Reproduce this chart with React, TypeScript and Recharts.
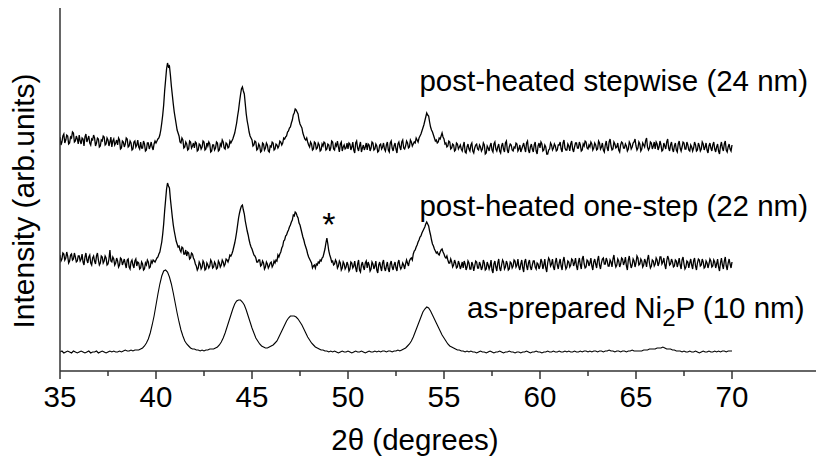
import React from 'react';
import { LineChart, Line, XAxis, YAxis, ReferenceDot } from 'recharts';

// 2θ sampling start, and step of each recorded pattern
const TWO_THETA_START = 35;
const STEP_FINE = 0.05;
const STEP_COARSE = 0.1;

// intensities (arb. units) above each pattern's own baseline, one row per degree (35..69, then 70)
const stepwise = [
  14, 6, 9, 15, 17, 8, 11, 16, 15, 7, 8, 14, 13, 19, 18, 9, 10, 15, 12, 7,
  16, 10, 7, 13, 12, 5, 14, 17, 9, 12, 15, 8, 6, 12, 11, 16, 13, 5, 8, 13,
  12, 4, 5, 11, 10, 15, 14, 6, 7, 13, 11, 5, 9, 14, 4, 10, 12, 6, 8, 11,
  6, 13, 11, 2, 3, 10, 9, 4, 7, 13, 12, 4, 5, 10, 8, 1, 2, 9, 10, 4,
  6, 11, 4, 2, 9, 3, 3, 10, 7, 0, 1, 8, 8, 2, 5, 9, 4, 1, 7, 10,
  8, 10, 12, 13, 16, 21, 28, 36, 46, 60, 71, 82, 88, 84, 85, 76, 65, 56, 47, 39,
  33, 27, 21, 18, 15, 9, 8, 13, 11, 3, 4, 9, 7, 1, 2, 10, 9, 3, 5, 8,
  3, 9, 8, 0, 1, 7, 6, 2, 4, 10, 9, 1, 2, 8, 5, 9, 7, -1, 0, 6,
  6, 1, 3, 9, 8, 0, 1, 7, 5, 11, 9, 3, 2, 8, 7, 3, 4, 10, 8, 10,
  12, 15, 18, 23, 28, 35, 41, 49, 56, 62, 64, 60, 57, 47, 37, 30, 25, 19, 15, 13,
  11, 5, 6, 10, 9, 1, 2, 7, 5, -1, 0, 8, 7, 1, 3, 8, 6, 0, -1, 5,
  4, 9, 8, 1, 2, 7, 6, 3, 5, 10, 9, 6, 8, 13, 12, 14, 15, 19, 20, 23,
  24, 28, 31, 36, 38, 42, 41, 39, 37, 31, 27, 25, 23, 18, 15, 12, 11, 13, 9, 6,
  4, 9, 7, 1, 2, 9, 8, 2, 3, 8, 6, 0, 1, 7, 5, 9, 8, 1, 2, 7,
  6, 0, 3, 10, 9, 2, 1, 7, 5, 10, 4, -1, 7, 9, 0, 4, 6, 2, 3, 8,
  2, 8, 7, 1, 4, 9, 1, -2, 8, 10, 3, 0, 5, 9, -1, 3, 6, 1, 4, 8,
  1, 7, 6, 0, 3, 9, 8, 1, 2, 7, 5, -1, 0, 6, 7, 2, 4, 8, 2, 0,
  6, 9, 1, -1, 8, 10, 3, 0, 5, 8, 2, -2, 7, 9, 4, 1, 9, 11, 3, 2,
  5, 10, 8, 3, 4, 11, 9, 5, 7, 9, 8, 13, 11, 9, 13, 15, 17, 20, 23, 26,
  30, 34, 38, 36, 35, 29, 24, 21, 19, 16, 13, 10, 11, 8, 9, 13, 12, 15, 18, 14,
  12, 7, 8, 4, 5, 10, 9, 2, 3, 7, 6, 0, 1, 8, 7, 2, 4, 6, 2, 0,
  5, 9, -1, -2, 4, 7, 2, 0, 6, 8, 0, -2, 3, 6, 7, 2, 1, 6, 4, 0,
  2, 8, 6, -3, -2, 5, 3, 0, 5, 8, 1, -1, 7, 9, 2, 0, 4, 7, 0, -2,
  5, 8, 2, -1, 8, 10, 1, -2, 4, 7, 6, 1, 0, 4, 3, 8, 7, 0, 2, 6,
  -1, 2, 5, 8, 3, -1, 8, 10, 1, -2, 4, 7, 2, -1, 6, 9, 0, -3, 5, 8,
  3, 9, 7, 0, 1, 6, 4, -3, -3, 1, 2, 8, 6, 1, 3, 7, 5, 0, 1, 6,
  6, 9, 2, -1, 8, 11, 3, 1, 1, 7, 5, 0, 7, 10, 2, -1, 4, 8, 8, 3,
  3, 9, 6, 0, 1, 7, 5, 10, 9, 3, 2, 6, 4, 9, 7, 1, 3, 8, 6, 1,
  2, 10, 8, 2, 4, 8, 1, -1, 6, 10, 3, 0, 9, 12, 5, 1, 2, 9, 7, 3,
  4, 8, 1, -1, 6, 9, 8, 3, 3, 7, 5, 0, 2, 9, 7, 2, 4, 8, 9, 12,
  5, 1, 3, 9, 7, 0, 2, 8, 6, 4, 10, 13, 4, 1, 3, 9, 8, 2, 5, 9,
  2, 9, 7, 1, 4, 10, 6, 0, 1, 8, 5, 2, 9, 12, 3, 0, 6, 9, 2, -1,
  5, 8, 1, -1, 7, 10, 3, 0, 4, 9, 8, 2, 2, 9, 6, 1, 0, 6, 4, 0,
  3, 9, 6, 0, 1, 8, 5, 0, 2, 9, 7, 1, 4, 8, 1, -2, 5, 8, 3, 0,
  6, 9, 2, -1, 4, 7, 0, -3, 5, 9, 3, 0, 7, 10, 1, -1, 4, 7, 2, 0,
  6,
];

const oneStep = [
  16, 10, 12, 18, 17, 11, 13, 19, 15, 8, 10, 16, 17, 11, 12, 18, 14, 9, 10, 15,
  15, 10, 12, 17, 9, 6, 14, 18, 11, 8, 14, 16, 8, 6, 13, 15, 10, 7, 15, 18,
  11, 6, 8, 15, 14, 8, 10, 15, 13, 6, 7, 12, 21, 10, 9, 14, 12, 6, 8, 13,
  10, 4, 6, 13, 12, 6, 9, 12, 7, 3, 11, 12, 4, 2, 9, 11, 6, 3, 10, 12,
  5, 9, 8, 2, 3, 9, 7, 1, 2, 8, 6, 11, 9, 3, 4, 10, 8, 11, 10, 9,
  11, 13, 14, 17, 19, 24, 29, 37, 47, 60, 71, 82, 88, 85, 83, 72, 63, 54, 46, 40,
  35, 30, 27, 24, 25, 21, 19, 24, 23, 17, 17, 21, 15, 19, 18, 12, 13, 18, 17, 13,
  11, 7, 5, 1, 3, 9, 7, 2, 4, 10, 8, 1, 2, 8, 6, 3, 5, 11, 9, 3,
  4, 9, 7, 2, 3, 10, 8, 4, 6, 11, 9, 5, 7, 12, 11, 9, 12, 16, 15, 17,
  20, 24, 28, 33, 39, 46, 53, 58, 62, 65, 66, 61, 57, 50, 45, 40, 36, 31, 27, 24,
  22, 19, 16, 15, 13, 9, 9, 11, 11, 5, 6, 10, 8, 2, 4, 9, 7, 3, 5, 8,
  9, 4, 6, 10, 8, 11, 10, 16, 14, 17, 19, 23, 25, 30, 31, 35, 36, 39, 41, 44,
  46, 49, 51, 56, 55, 59, 58, 55, 53, 48, 46, 42, 38, 34, 31, 27, 24, 21, 17, 14,
  12, 10, 8, 3, 5, 6, 3, 7, 6, 9, 8, 11, 10, 13, 14, 18, 22, 28, 33, 27,
  20, 16, 13, 9, 10, 6, 7, 11, 9, 3, 5, 10, 8, 1, 3, 9, 7, 2, 4, 9,
  6, 0, 2, 9, 8, 3, 5, 10, 3, -1, 7, 11, 1, -1, 6, 9, 4, 1, 8, 10,
  3, 9, 6, 0, 2, 9, 7, 2, 5, 10, 1, -2, 6, 9, 4, 0, 8, 11, 3, 0,
  5, 9, 2, -1, 7, 10, 4, 1, 6, 9, 3, 0, 8, 11, 5, 2, 4, 8, 6, 2,
  7, 11, 8, 5, 10, 12, 13, 11, 17, 20, 21, 24, 26, 29, 31, 34, 35, 38, 40, 42,
  44, 47, 49, 47, 45, 40, 36, 31, 27, 25, 22, 20, 18, 19, 17, 16, 19, 21, 22, 19,
  17, 14, 13, 15, 11, 8, 8, 12, 9, 4, 6, 11, 8, 3, 4, 10, 7, 2, 5, 9,
  3, 10, 7, 1, 4, 10, 8, 2, 2, 9, 6, 0, 5, 10, 9, 3, 3, 9, 6, 1,
  4, 11, 8, 1, 2, 9, 6, 2, 5, 11, 1, -2, 7, 10, 4, 0, 8, 12, 3, 0,
  6, 11, 9, 2, 4, 10, 7, 1, 2, 9, 8, 3, 5, 11, 10, 4, 6, 12, 4, 1,
  7, 11, 3, -1, 9, 12, 5, 1, 8, 11, 4, 1, 6, 10, 10, 4, 2, 8, 7, 2,
  5, 12, 9, 2, 6, 12, 3, -1, 8, 13, 11, 5, 7, 12, 4, 1, 9, 13, 6, 2,
  8, 12, 5, 1, 10, 14, 7, 2, 4, 10, 9, 4, 6, 12, 11, 5, 8, 13, 5, 1,
  9, 13, 6, 2, 12, 15, 7, 3, 4, 11, 10, 5, 8, 13, 5, 1, 9, 12, 7, 3,
  11, 15, 6, 2, 8, 12, 13, 7, 7, 13, 10, 5, 5, 11, 9, 4, 12, 16, 8, 4,
  6, 12, 10, 4, 7, 13, 12, 6, 9, 14, 5, 1, 11, 15, 8, 3, 6, 12, 10, 4,
  8, 15, 13, 6, 7, 12, 10, 4, 6, 12, 9, 4, 12, 16, 8, 3, 5, 11, 10, 5,
  7, 13, 11, 5, 8, 14, 14, 7, 9, 13, 6, 2, 10, 15, 12, 6, 7, 12, 9, 4,
  5, 11, 10, 4, 8, 13, 6, 2, 11, 14, 7, 2, 4, 10, 9, 3, 8, 12, 6, 2,
  10, 13, 5, 1, 8, 12, 11, 5, 6, 12, 9, 3, 4, 10, 8, 3, 7, 12, 10, 4,
  5, 11, 9, 3, 7, 12, 4, 0, 8, 13, 6, 2, 10, 14, 5, 1, 8, 12, 7, 3,
  9,
];

const asPrepared = [
  0, 1, -1, 0, 1, 0, -1, 1, 0, -1,
  0, 1, 0, -1, 0, 1, -1, 0, 0, 1,
  -1, 0, 1, 0, -1, 0, 1, 0, 1, 0,
  0, 1, 0, 1, 2, 1, 1, 2, 1, 2,
  2, 2, 3, 4, 6, 9, 13, 19, 27, 36,
  47, 58, 68, 76, 81, 82, 80, 75, 68, 59,
  49, 39, 30, 22, 16, 11, 8, 6, 4, 3,
  3, 2, 2, 1, 2, 1, 2, 2, 3, 3,
  3, 4, 5, 7, 10, 14, 19, 25, 31, 37,
  43, 48, 51, 52, 52, 50, 47, 42, 36, 30,
  24, 19, 14, 11, 8, 6, 5, 4, 4, 5,
  6, 7, 9, 11, 15, 19, 23, 27, 31, 34,
  36, 36, 36, 35, 33, 30, 27, 23, 19, 15,
  12, 9, 7, 5, 4, 3, 2, 2, 1, 1,
  0, 1, 0, 1, 0, -1, 0, 1, 0, 0,
  1, 0, -1, 0, 1, 0, 0, 1, 0, -1,
  0, 1, 0, 0, 1, 0, 1, 0, 1, 1,
  0, 1, 1, 0, 1, 1, 2, 1, 2, 3,
  4, 6, 8, 11, 15, 20, 25, 30, 35, 40,
  43, 45, 44, 41, 37, 33, 29, 25, 21, 17,
  14, 11, 8, 6, 5, 4, 3, 2, 2, 1,
  1, 0, 1, 0, 1, 0, 0, -1, 0, 1,
  0, 0, -1, 0, 1, 0, -1, 0, 0, 1,
  0, -1, 0, 0, 1, 0, 0, -1, 0, 0,
  -1, 0, 0, 1, 0, -1, 0, 0, 1, 0,
  0, -1, 0, 0, 1, 0, 0, 1, 0, 0,
  1, 0, 0, 1, 0, 1, 0, 0, 1, 0,
  0, 1, 0, 1, 1, 0, 1, 0, 1, 1,
  0, 1, 1, 0, 1, 1, 2, 1, 1, 0,
  1, 1, 0, 1, 1, 0, 1, 1, 2, 1,
  1, 1, 1, 1, 2, 2, 2, 3, 3, 3,
  3, 4, 4, 4, 5, 4, 3, 3, 3, 2,
  2, 1, 1, 1, 0, 1, 0, 0, 1, 0,
  0, 1, 0, -1, 0, 1, 0, 0, 1, 0,
  0, 1, 0, 1, 0, 1, 1, 0, 1, 1,
  1,
];

// vertical stacking of the three patterns
const OFFSET_STEPWISE = 220;
const OFFSET_ONE_STEP = 100;
const OFFSET_AS_PREPARED = 19;

const MAJOR_TICKS = [35, 40, 45, 50, 55, 60, 65, 70];
const MINOR_TICKS = [37.5, 42.5, 47.5, 52.5, 57.5, 62.5, 67.5];

const toPoints = (vals: number[], step: number, offset: number) =>
  vals.map((v, i) => ({
    x: Math.round((TWO_THETA_START + i * step) * 100) / 100,
    y: v + offset,
  }));

const stepwiseData = toPoints(stepwise, STEP_FINE, OFFSET_STEPWISE);
const oneStepData = toPoints(oneStep, STEP_FINE, OFFSET_ONE_STEP);
const asPreparedData = toPoints(asPrepared, STEP_COARSE, OFFSET_AS_PREPARED);

const FONT = '"Liberation Sans", Arial, Helvetica, sans-serif';
const AXIS = '#333';

function XTick(props: any) {
  const { x, y, payload } = props;
  const major = MAJOR_TICKS.includes(payload.value);
  return (
    <g>
      <line x1={x} x2={x} y1={y} y2={y + (major ? 8 : 5)} stroke={AXIS} strokeWidth={1.5} />
      {major && (
        <text x={x} y={y + 35.5} textAnchor="middle" fontSize={29.5} fontFamily={FONT} fill="#000">
          {payload.value}
        </text>
      )}
    </g>
  );
}

const note = (text: React.ReactNode, anchor: 'start' | 'end' | 'middle', size = 29.5) =>
  (props: any) => {
    const { x, y } = props.viewBox;
    return (
      <text x={x} y={y} textAnchor={anchor} fontSize={size} fontFamily={FONT} fill="#000">
        {text}
      </text>
    );
  };

export default function App() {
  return (
    <div style={{ position: 'absolute', left: 0, top: 0, background: '#fff' }}>
      <LineChart
        width={816}
        height={459}
        margin={{ top: 8, right: 0, bottom: 0, left: 0 }}
        style={{ fontFamily: FONT }}
      >
        <XAxis
          dataKey="x"
          type="number"
          domain={[35, 74.375]}
          allowDataOverflow
          ticks={[...MAJOR_TICKS, ...MINOR_TICKS].sort((a, b) => a - b)}
          interval={0}
          tick={<XTick />}
          tickLine={false}
          tickSize={0}
          tickMargin={0}
          height={88}
          axisLine={{ stroke: AXIS, strokeWidth: 1.5 }}
          label={() => (
            <text x={415} y={450} textAnchor="middle" fontSize={29.5} fontFamily={FONT} fill="#000">
              2θ (degrees)
            </text>
          )}
        />
        <XAxis
          xAxisId="top"
          orientation="top"
          dataKey="x"
          type="number"
          domain={[35, 74.375]}
          height={0}
          tick={false}
          tickLine={false}
          axisLine={{ stroke: AXIS, strokeWidth: 1.5 }}
        />
        <YAxis
          type="number"
          domain={[0, 363]}
          width={60}
          tick={false}
          tickLine={false}
          axisLine={{ stroke: AXIS, strokeWidth: 1.5 }}
          label={() => (
            <text
              x={33.5}
              y={201}
              transform="rotate(-90 33.5 201)"
              textAnchor="middle"
              fontSize={30}
              fontFamily={FONT}
              fill="#000"
            >
              Intensity (arb.units)
            </text>
          )}
        />
        <Line data={stepwiseData} type="linear" dataKey="y" stroke="#000" strokeWidth={1.3} dot={false} isAnimationActive={false} />
        <Line data={oneStepData} type="linear" dataKey="y" stroke="#000" strokeWidth={1.3} dot={false} isAnimationActive={false} />
        <Line data={asPreparedData} type="linear" dataKey="y" stroke="#000" strokeWidth={1.1} dot={false} isAnimationActive={false} />
        <ReferenceDot x={73.96} y={280.5} r={0} stroke="none" fill="none" ifOverflow="visible"
          label={note('post-heated stepwise (24 nm)', 'end')} />
        <ReferenceDot x={73.96} y={155.5} r={0} stroke="none" fill="none" ifOverflow="visible"
          label={note('post-heated one-step (22 nm)', 'end')} />
        <ReferenceDot x={56.2} y={53} r={0} stroke="none" fill="none" ifOverflow="visible"
          label={note(
            <>
              as-prepared Ni<tspan fontSize={24} dy={8}>2</tspan>
              <tspan dy={-8}>P (10 nm)</tspan>
            </>,
            'start',
          )} />
        <ReferenceDot x={49.01} y={135} r={0} stroke="none" fill="none" ifOverflow="visible"
          label={note('*', 'middle', 34)} />
      </LineChart>
    </div>
  );
}
